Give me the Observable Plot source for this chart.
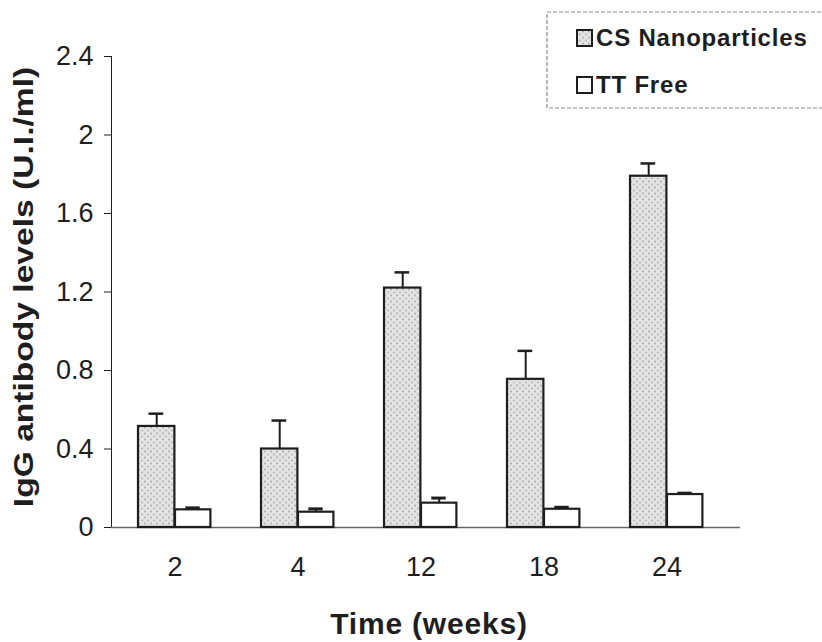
<!DOCTYPE html>
<html>
<head>
<meta charset="utf-8">
<script src="https://cdn.jsdelivr.net/npm/d3@7"></script>
<script src="https://cdn.jsdelivr.net/npm/@observablehq/plot@0.6"></script>
<style>
  html, body { margin: 0; padding: 0; background: #fff; overflow: hidden; }
  #chart { width: 822px; height: 642px; }
</style>
</head>
<body>
<div id="chart"></div>
<script>
// ---- data ----
const weeks = ["2", "4", "12", "18", "24"];
const seriesNames = ["CS Nanoparticles", "TT Free"];
const csMean = [0.515, 0.40, 1.22, 0.755, 1.79];
const csErr  = [0.065, 0.145, 0.08, 0.145, 0.065];
const ttMean = [0.09, 0.078, 0.124, 0.093, 0.168];
const ttErr  = [0.01, 0.017, 0.026, 0.01, 0.007];
const yTicks = [0, 0.4, 0.8, 1.2, 1.6, 2, 2.4];
const yTickLabels = ["0", "0.4", "0.8", "1.2", "1.6", "2", "2.4"];
const yLabel = "IgG antibody levels (U.I./ml)";
const xLabel = "Time (weeks)";

const data = weeks.map((w, i) => ({
  week: w,
  cs: csMean[i], csTop: csMean[i] + csErr[i],
  tt: ttMean[i], ttTop: ttMean[i] + ttErr[i]
}));

const ink = "#1e1e1e";
const font = "'Liberation Sans', Arial, sans-serif";

const chart = Plot.plot({
  width: 822,
  height: 642,
  marginLeft: 111,
  marginRight: 82,
  marginTop: 56,
  marginBottom: 115,
  style: { fontFamily: font, fontSize: "27px", color: ink, background: "white" },
  x: { domain: weeks, range: [111.25, 729], padding: 0, tickSize: 0, tickPadding: 29, label: null },
  y: { domain: [0, 2.4], ticks: yTicks, tickFormat: (d) => yTickLabels[yTicks.indexOf(d)], tickSize: 7, tickPadding: 11, line: true, label: null },
  marks: [
    Plot.ruleY([0], { stroke: "#666", strokeWidth: 1.5 }),
    Plot.barY(data, { x: "week", y: "cs", fill: "url(#stipple)", stroke: ink, strokeWidth: 2.2, insetLeft: 25, insetRight: 61.6 }),
    Plot.barY(data, { x: "week", y: "tt", fill: "white", stroke: ink, strokeWidth: 2.2, insetLeft: 62, insetRight: 25.6 }),
    Plot.ruleX(data, { x: "week", y1: "cs", y2: "csTop", dx: -18.3, stroke: ink, strokeWidth: 2 }),
    Plot.tickY(data, { x: "week", y: "csTop", insetLeft: 35.5, insetRight: 72.8, stroke: ink, strokeWidth: 2.5 }),
    Plot.ruleX(data, { x: "week", y1: "tt", y2: "ttTop", dx: 18.2, stroke: ink, strokeWidth: 2 }),
    Plot.tickY(data, { x: "week", y: "ttTop", insetLeft: 72.3, insetRight: 36.3, stroke: ink, strokeWidth: 3 })
  ]
});

const svg = d3.select(chart);
// stipple pattern for the CS bars
const defs = svg.insert("defs", ":first-child");
const pat = defs.append("pattern").attr("id", "stipple")
  .attr("width", 6).attr("height", 6).attr("patternUnits", "userSpaceOnUse");
pat.append("rect").attr("width", 6).attr("height", 6).attr("fill", "#e2e2e2");
pat.append("circle").attr("cx", 1).attr("cy", 1.5).attr("r", 0.9).attr("fill", "#a8a8a8");
pat.append("circle").attr("cx", 4).attr("cy", 4.5).attr("r", 0.9).attr("fill", "#b4b4b4");
pat.append("rect").attr("x", 3.5).attr("y", 0.5).attr("width", 1).attr("height", 1).attr("fill", "#f4f4f4");

// y-axis title
svg.append("text")
  .attr("transform", "translate(33,287) rotate(-90) scale(1.2,1)")
  .attr("text-anchor", "middle")
  .attr("font-family", font).attr("font-weight", "bold").attr("font-size", 28)
  .attr("fill", ink)
  .text(yLabel);

// x-axis title
svg.append("text")
  .attr("x", 429).attr("y", 634)
  .attr("text-anchor", "middle")
  .attr("font-family", font).attr("font-weight", "bold").attr("font-size", 30)
  .attr("letter-spacing", 0.8)
  .attr("fill", ink)
  .text(xLabel);

// legend
const lg = svg.append("g").attr("text-anchor", "start");
lg.append("rect").attr("x", 547).attr("y", 12).attr("width", 300).attr("height", 96)
  .attr("fill", "white").attr("stroke", "#8a8a8a").attr("stroke-width", 1.2).attr("stroke-dasharray", "4,2");
const fills = ["url(#stipple)", "white"];
const rowY = [30, 77];
seriesNames.forEach((name, i) => {
  lg.append("rect").attr("x", 577).attr("y", rowY[i]).attr("width", 15).attr("height", 16)
    .attr("fill", fills[i]).attr("stroke", ink).attr("stroke-width", 2);
  lg.append("text").attr("x", 596).attr("y", rowY[i] + 15.5)
    .attr("text-anchor", "start")
    .attr("font-family", font).attr("font-weight", "bold").attr("font-size", 24)
    .attr("letter-spacing", 0.8).attr("fill", ink)
    .text(name);
});

document.getElementById("chart").appendChild(chart);
</script>
</body>
</html>
